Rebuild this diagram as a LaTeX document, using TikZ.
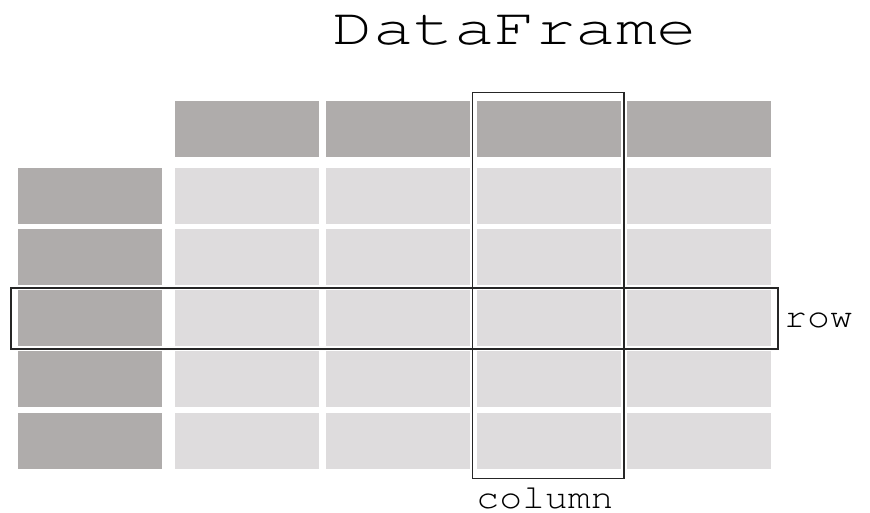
\documentclass[tikz,border=0pt]{standalone}
\usepackage{fontspec}
\newfontfamily\cour{TeX Gyre Cursor}
\definecolor{hdr}{HTML}{AFACAB}
\definecolor{cellc}{HTML}{DEDCDD}
\begin{document}
\begin{tikzpicture}[x=1pt,y=-1pt,
  sel/.style={draw=black!85,line width=1.4pt},
  lbl/.style={font=\cour\fontsize{34}{40}\selectfont,xscale=1.12,inner sep=0pt,text depth=0pt}]
\useasboundingbox[fill=white] (0,0) rectangle (870,513);
\def\cw{144}
\def\rh{56}
% header row
\foreach \x in {175,325.5,476.5,627} {
  \fill[hdr] (\x,101.5) rectangle ++(\cw,\rh);
}
% index column and data cells
\foreach \y in {168,229,290,351,412.5} {
  \fill[hdr] (18,\y) rectangle ++(\cw,\rh);
  \foreach \x in {175,325.5,476.5,627} {
    \fill[cellc] (\x,\y) rectangle ++(\cw,\rh);
  }
}
\draw[sel] (472.3,92.3) rectangle (624,478.3);
\draw[sel] (11,288) rectangle (778,349);
\node[font=\cour\fontsize{52}{60}\selectfont,xscale=1.3,inner sep=0pt,text depth=0pt,anchor=base] (title) at (515,45) {DataFrame};
\node[lbl,anchor=base west] (row) at (784,327.5) {row};
\node[lbl,anchor=base] (col) at (545,508.5) {column};
\end{tikzpicture}
\end{document}
